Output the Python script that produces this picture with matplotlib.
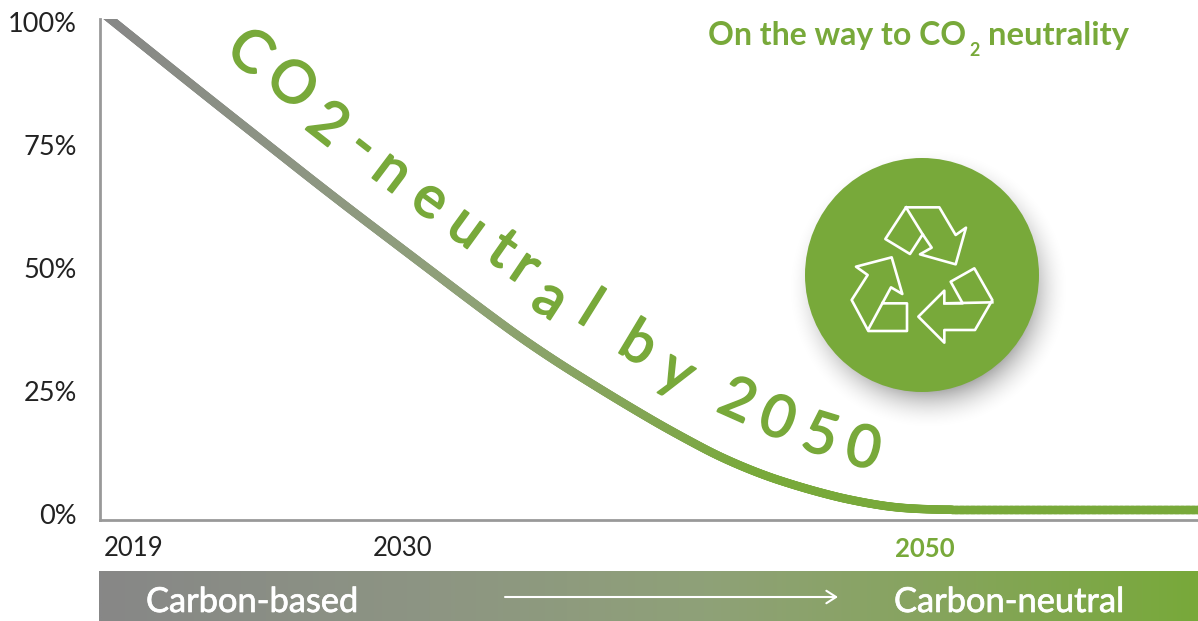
import numpy as np
import matplotlib
matplotlib.use("Agg")
import matplotlib.pyplot as plt
import matplotlib.patheffects as pe
from matplotlib.collections import LineCollection
from matplotlib.colors import LinearSegmentedColormap
from matplotlib.patches import Circle, Polygon

# values
years = [2019.0, 2022.7, 2027.75, 2030.3, 2033.9, 2035.7, 2039.1, 2041.3, 2043.3, 2045.9, 2048.4, 2050, 2055, 2061]
share = [101.6, 85.8, 64.6, 54.3, 39.8, 32.9, 21.7, 15.0, 9.6, 4.9, 1.8, 0.9, 0.9, 0.9]
y_ticks = [0, 25, 50, 75, 100]
y_labels = ["0%", "25%", "50%", "75%", "100%"]

GREEN = "#78a93a"
cmap = LinearSegmentedColormap.from_list(
    "co2", [(0, "#878787"), (0.3, "#8d9583"), (0.55, "#8fa178"), (0.75, "#87a45f"), (1, GREEN)])

W, H = 1198, 621
plt.rcParams["font.family"] = ["Lato", "DejaVu Sans"]
fig = plt.figure(figsize=(W / 100, H / 100), dpi=100)

# overlay in pixels for the bar, badge and labels
over = fig.add_axes([0, 0, 1, 1], zorder=1)
over.axis("off")

ax = fig.add_axes([100 / W, (H - 520) / H, (W - 100) / W, 501 / H], zorder=2)
ax.patch.set_alpha(0)
px_per_year = 26.16
ax.set_xlim(2019 - 4 / px_per_year, 2019 + (W - 104) / px_per_year)
ax.set_ylim(-1.2, 100.6)
for s in ["top", "right"]:
    ax.spines[s].set_visible(False)
for s in ["left", "bottom"]:
    ax.spines[s].set_color("#999999")
    ax.spines[s].set_linewidth(2.0)
ax.set_yticks(y_ticks)
ax.set_yticklabels(y_labels, fontsize=19.5, color="#222222")
ax.tick_params(axis="y", length=0, pad=16.5)
ax.set_xticks([])

# gradient curve
xd = np.linspace(years[0], years[-1], 900)
yd = np.interp(xd, years, share)
smooth = np.convolve(yd, np.ones(61) / 61, mode="same")
yd[30:-30] = smooth[30:-30]
pts = np.column_stack([xd, yd]).reshape(-1, 1, 2)
segs = np.concatenate([pts[:-1], pts[1:]], axis=1)
lc = LineCollection(segs, cmap=cmap, linewidth=6.1, capstyle="round")
lc.set_array(np.clip((xd[:-1] - 2019) / (2044 - 2019), 0, 1))
lc.set_clim(0, 1)
ax.add_collection(lc)

# bottom bar
grad = np.linspace(0, 1, 512).reshape(1, -1)
over.imshow(grad, cmap=cmap, extent=[99, W, 621, 571], aspect="auto", zorder=1)

# badge with soft shadow
gx, gy = np.meshgrid(np.arange(760, 1100), np.arange(130, 450))
dist = np.hypot(gx - 928, gy - 288)
shade = np.zeros(dist.shape + (4,))
shade[..., 3] = 0.42 * np.clip((142 - dist) / 45, 0, 1) ** 2
over.imshow(shade, extent=[760, 1100, 450, 130], aspect="auto", zorder=2)
over.add_patch(Circle((922, 275), 117, fc=GREEN, ec="none", zorder=3))
over.set_xlim(0, W)
over.set_ylim(H, 0)


def zoomed(p):
    return [(780 + a / 3, 140 + b / 3) for a, b in p]


arrow_top = [(378, 202), (478, 202), (527, 285), (558, 263), (527, 373), (420, 343), (455, 323), (428, 283), (390, 342), (316, 297)]
arrow_left = [(228, 380), (335, 352), (367, 462), (333, 442), (307, 490), (381, 490), (381, 573), (265, 573), (215, 480), (263, 405)]
arrow_right = [(415, 530), (493, 452), (493, 490), (548, 490), (512, 425), (583, 385), (637, 480), (585, 570), (493, 570), (493, 608)]
for p in [arrow_top, arrow_left, arrow_right]:
    over.add_patch(Polygon(zoomed(p), closed=True, fc="none", ec="white", lw=1.9, joinstyle="round", zorder=4))
for p in [[(378, 202), (428, 283)], [(307, 490), (265, 568)], [(493, 490), (637, 487)]]:
    q = np.array(zoomed(p))
    over.plot(q[:, 0], q[:, 1], color="white", lw=1.9, zorder=4)

# x labels
over.text(104, 549, "2019", fontsize=18.5, color="#222222", ha="left", va="center")
over.text(403, 549, "2030", fontsize=18.5, color="#222222", ha="center", va="center")
over.text(925, 549, "2050", fontsize=18.5, color=GREEN, ha="center", va="center", fontweight="bold")

# title
over.text(708, 36, "On the way to CO", fontsize=23, color=GREEN, fontweight="bold", ha="left", va="center")
over.text(969, 51, "2", fontsize=13, color=GREEN, fontweight="bold", ha="left", va="center")
over.text(988, 36, "neutrality", fontsize=23.6, color=GREEN, fontweight="bold", ha="left", va="center")

# bar labels
bar_stroke = [pe.withStroke(linewidth=0.5, foreground="white")]
over.text(146, 602, "Carbon-based", fontsize=24.8, color="white", ha="left", va="center", zorder=3, path_effects=bar_stroke)
over.text(894, 602, "Carbon-neutral", fontsize=24.8, color="white", ha="left", va="center", zorder=3, path_effects=bar_stroke)
over.annotate("", xy=(838, 597), xytext=(505, 597), zorder=3,
              arrowprops=dict(arrowstyle="->,head_length=0.7,head_width=0.45", color="white", lw=1.5,
                              shrinkA=0, shrinkB=0))

# letters of the curved label, placed one by one
label = "CO2-neutral by 2050"
letter_x = [249, 291, 327, 363, 392, 430, 467, 502, 525, 550, 590, 0, 638, 677, 0, 737, 777, 820, 863]
letter_y = [53, 85, 125, 146, 172, 200, 228, 250, 268, 300, 310, 0, 345, 373, 0, 402, 420, 437, 450]
letter_rot = [-40, -39, -38, -38, -37, -36, -36, -35, -34, -33, -32, 0, -31, -29, 0, -24, -20, -17, -13]
letter_stroke = [pe.withStroke(linewidth=1.3, foreground=GREEN)]
for ch, lx, ly, rot in zip(label, letter_x, letter_y, letter_rot):
    if ch == " ":
        continue
    over.text(lx, ly, ch, fontsize=42, color=GREEN, ha="center", va="center",
              rotation=rot, rotation_mode="anchor", zorder=5, path_effects=letter_stroke)

fig.savefig("out.png", dpi=100)
